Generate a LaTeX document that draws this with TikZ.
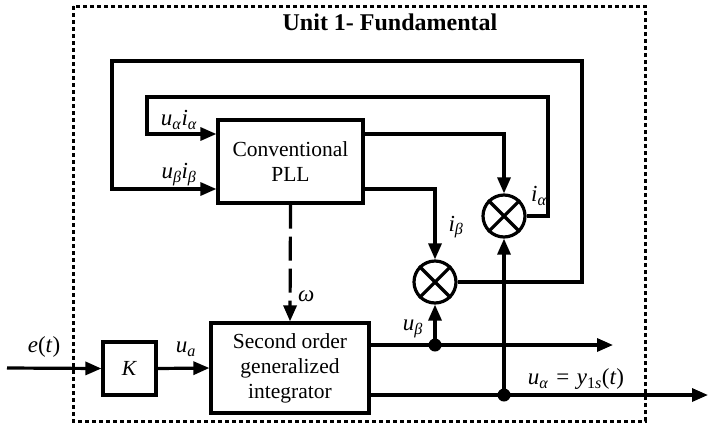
\documentclass[tikz,border=0pt]{standalone}
\usepackage{fontspec}
\setmainfont{Liberation Serif}
\usetikzlibrary{arrows.meta,calc}
\newcommand{\iv}[1]{\textit{#1}}
\newcommand{\sbi}[1]{\textsubscript{\textit{#1}}}
\tikzset{
  blk/.style={draw, line width=3.2pt, inner sep=0pt, align=center, font=\fontsize{21.5}{25}\selectfont},
  mult/.style={draw, circle, line width=3.2pt, minimum size=42pt, inner sep=0pt},
  wire/.style={line width=3.2pt},
  arr/.style={wire, -{Triangle[length=16pt,width=13pt]}},
  lbl/.style={font=\fontsize{23}{27}\selectfont, inner sep=1pt},
  dot/.style={circle, fill=black, minimum size=13pt, inner sep=0pt},
  frame/.style={line width=3pt, dash pattern=on 4pt off 3pt}
}
\begin{document}
\begin{tikzpicture}[x=1pt,y=-1pt]
\useasboundingbox (0,0) rectangle (708,426);
\draw[frame] (73,6) rectangle (645,421);
\node[font=\fontsize{24}{28}\selectfont\bfseries] (title) at (390,22) {Unit 1- Fundamental};

\node[blk, minimum width=145pt, minimum height=83pt] (pll) at (290.5,161.5) {Conventional\\PLL};
\node[blk, minimum width=158pt, minimum height=90pt] (sogi) at (290,368) {Second order\\generalized\\integrator};
\node[blk, minimum width=53pt, minimum height=53pt] (K) at (129.5,368.5) {\iv{K}};
\node[mult] (m1) at (504,216) {};
\node[mult] (m2) at (435,282) {};
\foreach \m in {m1,m2}{
  \draw[wire] (\m.north west) -- (\m.south east);
  \draw[wire] (\m.north east) -- (\m.south west);
}
\node[dot] (d1) at (435,345) {};
\node[dot] (d2) at (504,395) {};

\coordinate (yA) at (0,134);
\coordinate (yB) at (0,189);
\coordinate (in) at (7,368);
\coordinate (out1) at (613,345);
\coordinate (out2) at (708,395);
\coordinate (c1) at (548,97);
\coordinate (c2) at (147,134);
\coordinate (c3) at (582,61);
\coordinate (c4) at (112,189);

% input chain
\draw[arr] (in) -- (K.west);
\draw[arr] (K.east) -- (sogi.west);
% PLL outputs
\draw[arr] (pll.east |- yA) -| (m1.north);
\draw[arr] (pll.east |- yB) -| (m2.north);
% feedback loops
\draw[arr] (m1.east) -| (c1) -| (c2) -- (pll.west |- yA);
\draw[arr] (m2.east) -| (c3) -| (c4) -- (pll.west |- yB);
% omega
\draw[wire, dash pattern=on 24pt off 8pt, -{Triangle[length=16pt,width=13pt]}] (pll.south) -- (sogi.north);
% SOGI outputs
\draw[arr] (sogi.east |- d1) -- (out1);
\draw[arr] (sogi.east |- d2) -- (out2);
\draw[arr] (d1.center) -- (m2.south);
\draw[arr] (d2.center) -- (m1.south);

% labels
\node[lbl] (le) at (44,347) {\iv{e}(\iv{t})};
\node[lbl] (lua) at (186,349) {\iv{u}\sbi{a}};
\node[lbl, anchor=south] (luaia) at (179,131) {\iv{u}\sbi{α}\iv{i}\sbi{α}};
\node[lbl, anchor=south] (lubib) at (179,187) {\iv{u}\sbi{β}\iv{i}\sbi{β}};
\node[lbl, anchor=west] (lw) at (297,296) {\iv{ω}};
\node[lbl] (lib) at (456,227) {\iv{i}\sbi{β}};
\node[lbl] (lia) at (539,196) {\iv{i}\sbi{α}};
\node[lbl] (lub) at (413,329) {\iv{u}\sbi{β}};
\node[lbl] (lout) at (576,379) {\iv{u}\sbi{α}\,\,=\,\,\iv{y}\textsubscript{1\iv{s}}(\iv{t})};
\end{tikzpicture}
\end{document}
